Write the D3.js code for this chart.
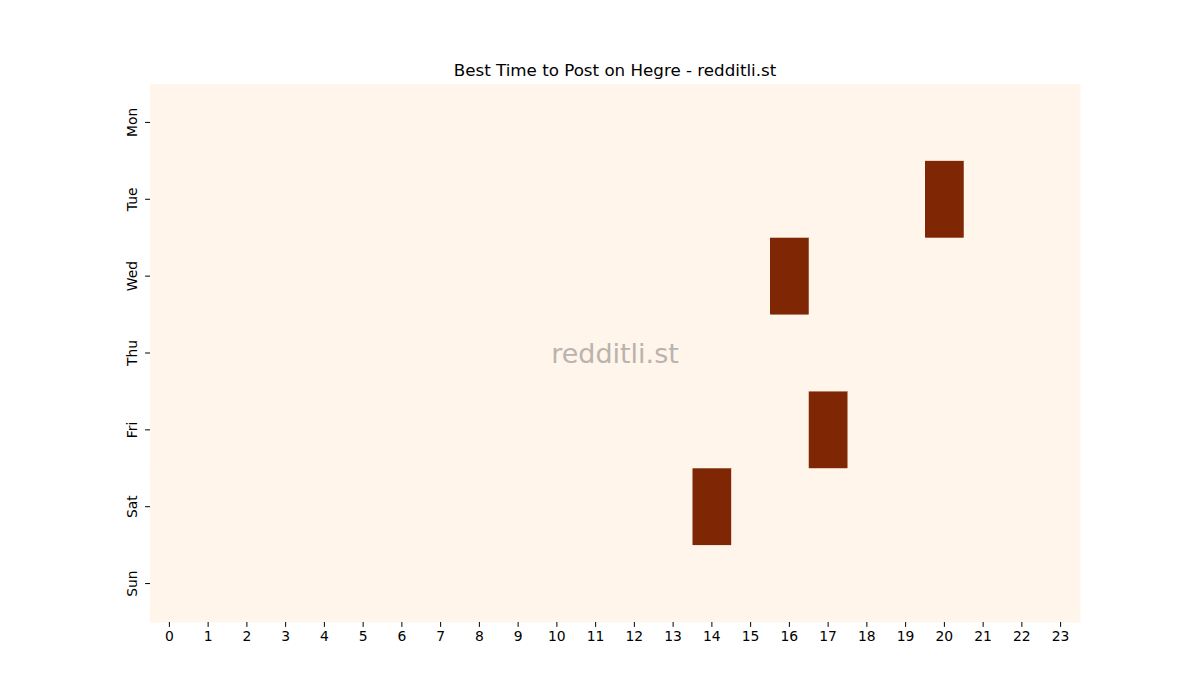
<!DOCTYPE html>
<html><head><meta charset="utf-8">
<script src="https://cdn.jsdelivr.net/npm/d3@7"></script>
<style>body{margin:0;background:#fff;font-family:"DejaVu Sans",sans-serif;}</style>
</head><body>
<svg id="chart" width="1200" height="700"></svg>
<script>
const days = ["Mon","Tue","Wed","Thu","Fri","Sat","Sun"];
const hours = d3.range(24).map(String);
// non-zero cells: [day, hour, value]
const hotDays  = ["Tue","Wed","Fri","Sat"];
const hotHours = ["20","16","17","14"];
const hotVals  = [1,1,1,1];
const title = "Best Time to Post on Hegre - redditli.st";
const watermark = "redditli.st";

const cells = [];
days.forEach(d => hours.forEach(h => cells.push({day:d, hour:h, value:0})));
hotDays.forEach((d,i) => {
  const c = cells.find(c => c.day === d && c.hour === hotHours[i]);
  c.value = hotVals[i];
});

const svg = d3.select("#chart");
const m = {left:150, top:84, right:1080, bottom:622};
const x = d3.scaleBand().domain(hours).range([m.left, m.right]).padding(0);
const y = d3.scaleBand().domain(days).range([m.top, m.bottom]).padding(0);
const color = d3.scaleLinear().domain([0,1]).range(["#fff5eb","#7f2704"]);

svg.append("g").selectAll("rect").data(cells).join("rect")
  .attr("x", d => x(d.hour)).attr("y", d => y(d.day))
  .attr("width", x.bandwidth()+0.5).attr("height", y.bandwidth()+0.5)
  .attr("fill", d => color(d.value));

const xAxis = svg.append("g").attr("transform", `translate(0,${m.bottom})`)
  .call(d3.axisBottom(x).tickSize(4.9).tickPadding(4));
xAxis.select(".domain").remove();
xAxis.selectAll("text").attr("font-size", "13.9px").attr("font-family", "DejaVu Sans").attr("fill","#000");

const yAxis = svg.append("g").attr("transform", `translate(${m.left},0)`)
  .call(d3.axisLeft(y).tickSize(4.9).tickPadding(4));
yAxis.select(".domain").remove();
yAxis.selectAll("text")
  .attr("font-size", "13.9px").attr("font-family", "DejaVu Sans").attr("fill","#000")
  .attr("transform", "rotate(-90)")
  .attr("x", 0).attr("y", 0).attr("dx", 0).attr("dy", 0)
  .attr("text-anchor", "middle")
  .attr("transform", function(){ return "translate(-13,0) rotate(-90)"; });

svg.append("text").attr("x", (m.left+m.right)/2).attr("y", 76)
  .attr("text-anchor","middle").attr("font-size","16.7px").attr("font-family","DejaVu Sans")
  .text(title);

svg.append("text").attr("x", (m.left+m.right)/2).attr("y", 353)
  .attr("text-anchor","middle").attr("dominant-baseline","central")
  .attr("font-size","27px").attr("font-family","DejaVu Sans").attr("fill","#bab3ae")
  .text(watermark);
</script>
</body></html>
